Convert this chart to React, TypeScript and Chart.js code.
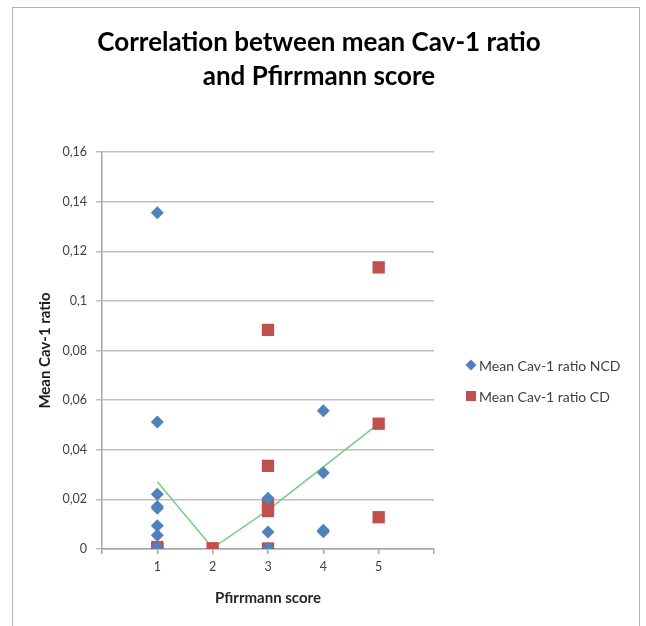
import { useEffect, useRef } from 'react';
import { Chart, registerables } from 'chart.js';

Chart.register(...registerables);

// Pfirrmann scores (x) and mean Cav-1 ratios (y) per sample
const ncdScores = [1, 1, 1, 1, 1, 1, 1, 1, 3, 3, 3, 4, 4, 4, 4];
const ncdRatios = [0.1355, 0.0512, 0.0221, 0.0171, 0.0164, 0.0094, 0.0055, 0.0005, 0.0205, 0.0069, 0.0003, 0.0557, 0.0307, 0.0076, 0.007];

const cdScores = [1, 1, 2, 3, 3, 3, 3, 3, 5, 5, 5];
const cdRatios = [0.0008, 0.0002, 0.0003, 0.0883, 0.0335, 0.0177, 0.0153, 0.0002, 0.1135, 0.0505, 0.0128];

// trend line across the scores
const trendScores = [1, 2, 3, 4, 5];
const trendRatios = [0.0271, 0.0004, 0.0157, 0.0331, 0.0505];

// axis ticks
const xTickValues = [0, 1, 2, 3, 4, 5, 6];
const xTickLabels = ['', '1', '2', '3', '4', '5', ''];
const yTickValues = [0, 0.02, 0.04, 0.06, 0.08, 0.1, 0.12, 0.14, 0.16];
const yTickLabels = ['0', '0,02', '0,04', '0,06', '0,08', '0,1', '0,12', '0,14', '0,16'];

const FONT = 'Lato';
const GRID = '#bfbfbf';
const AXIS = '#a6a6a6';
const TEXT = '#404040';

const toPoints = (xs: number[], ys: number[]) => xs.map((x, i) => ({ x, y: ys[i] }));

// draws the two marker series into a legend to the right of the plot
const sideLegend = {
  id: 'sideLegend',
  afterDraw(chart: any) {
    const { ctx } = chart;
    const items = chart.data.datasets.filter((d: any) => !d.hideInLegend);
    ctx.save();
    ctx.font = `14px ${FONT}`;
    ctx.textBaseline = 'middle';
    ctx.textAlign = 'left';
    items.forEach((d: any, i: number) => {
      const cy = 365 + i * 31;
      const cx = 471;
      ctx.fillStyle = d.backgroundColor;
      ctx.beginPath();
      if (d.pointStyle === 'rectRot') {
        const r = 5.5;
        ctx.moveTo(cx, cy - r);
        ctx.lineTo(cx + r, cy);
        ctx.lineTo(cx, cy + r);
        ctx.lineTo(cx - r, cy);
        ctx.closePath();
      } else {
        ctx.rect(cx - 5, cy - 5, 10, 10);
      }
      ctx.fill();
      ctx.fillStyle = TEXT;
      ctx.fillText(d.label, 479, cy + 1);
    });
    ctx.restore();
  },
};

export default function App() {
  const canvasRef = useRef<HTMLCanvasElement | null>(null);

  useEffect(() => {
    if (!canvasRef.current) return;
    Chart.defaults.font.family = FONT;
    const chart = new Chart(canvasRef.current, {
      type: 'scatter',
      data: {
        datasets: [
          {
            label: 'Mean Cav-1 ratio NCD',
            data: toPoints(ncdScores, ncdRatios),
            pointStyle: 'rectRot',
            pointRadius: 6.5,
            pointHoverRadius: 6.5,
            backgroundColor: '#4f81bd',
            borderColor: '#4f81bd',
            borderWidth: 0,
          },
          {
            label: 'Mean Cav-1 ratio CD',
            data: toPoints(cdScores, cdRatios),
            pointStyle: 'rect',
            pointRadius: 8.7,
            pointHoverRadius: 8.7,
            backgroundColor: '#c0504d',
            borderColor: '#c0504d',
            borderWidth: 0,
          },
          {
            label: 'Trend',
            hideInLegend: true,
            data: toPoints(trendScores, trendRatios),
            showLine: true,
            pointRadius: 0,
            borderColor: '#72cf80',
            backgroundColor: '#72cf80',
            borderWidth: 1.5,
            fill: false,
          } as any,
        ],
      },
      options: {
        responsive: false,
        animation: false,
        events: [],
        layout: { padding: { left: 30, right: 212, top: 152, bottom: 0 } },
        plugins: {
          legend: { display: false },
          title: { display: false },
          tooltip: { enabled: false },
        },
        scales: {
          x: {
            type: 'linear',
            position: 'bottom',
            min: 0,
            max: 6,
            afterBuildTicks: (s: any) => {
              s.ticks = xTickValues.map((value) => ({ value }));
            },
            afterFit: (s: any) => {
              s.height = 77;
            },
            ticks: {
              callback: (_v: any, i: number) => xTickLabels[i],
              font: { size: 12.5 },
              color: TEXT,
              padding: 5,
              maxRotation: 0,
            },
            grid: {
              drawOnChartArea: false,
              drawTicks: true,
              tickLength: 5,
              color: AXIS,
              lineWidth: 1.5,
            },
            border: { color: AXIS, width: 1.5 },
            title: {
              display: true,
              text: 'Pfirrmann score',
              font: { size: 15, weight: 'bold' },
              color: '#262626',
              padding: { top: 0, bottom: 19 },
            },
          },
          y: {
            min: 0,
            max: 0.16,
            afterBuildTicks: (s: any) => {
              s.ticks = yTickValues.map((value) => ({ value }));
            },
            afterFit: (s: any) => {
              s.width = 72;
            },
            ticks: {
              callback: (_v: any, i: number) => yTickLabels[i],
              font: { size: 12.5 },
              color: TEXT,
              padding: 9,
            },
            grid: {
              color: GRID,
              lineWidth: 1.5,
              tickLength: 6,
              drawTicks: true,
            },
            border: { color: AXIS, width: 1.5 },
            title: {
              display: true,
              text: 'Mean Cav-1 ratio',
              font: { size: 15, weight: 'bold' },
              color: '#1a1a1a',
              padding: { top: 6, bottom: 0 },
            },
          },
        },
      },
      plugins: [sideLegend],
    } as any);
    return () => chart.destroy();
  }, []);

  return (
    <div style={{ position: 'fixed', left: 0, top: 0, width: 646, height: 626, overflow: 'hidden', background: '#fff' }}>
      <div
        style={{
          position: 'absolute',
          left: 12,
          top: 7,
          width: 628,
          height: 660,
          border: '1.5px solid #b3b3b3',
          boxSizing: 'border-box',
        }}
      />
      <canvas ref={canvasRef} width={646} height={626} style={{ position: 'absolute', left: 0, top: 0 }} />
      <div
        style={{
          position: 'absolute',
          left: 0,
          top: 24,
          width: 638,
          textAlign: 'center',
          font: `bold 26px ${FONT}`,
          lineHeight: '34px',
          color: '#000',
        }}
      >
        <div>Correlation between mean Cav-1 ratio</div>
        <div>and Pfirrmann score</div>
      </div>
    </div>
  );
}
